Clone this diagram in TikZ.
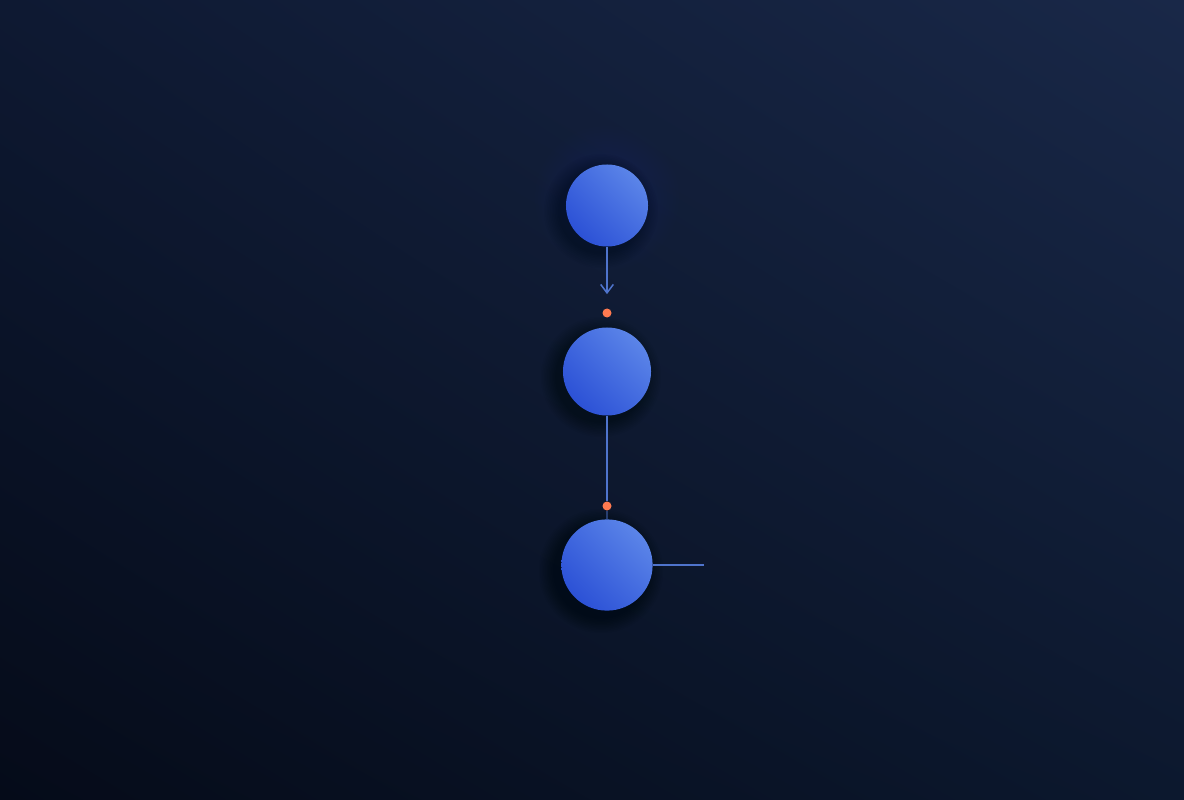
\documentclass[tikz,border=0pt]{standalone}
\usetikzlibrary{arrows.meta,shadings}
\definecolor{bgtl}{HTML}{0E1932}
\definecolor{bgtr}{HTML}{192848}
\definecolor{bgbl}{HTML}{050B19}
\definecolor{bgbr}{HTML}{0C182E}
\definecolor{ballhi}{HTML}{6690EC}
\definecolor{ballmid}{HTML}{4169DF}
\definecolor{balllo}{HTML}{2347D2}
\definecolor{linkblue}{HTML}{4F74CC}
\definecolor{dotorange}{HTML}{FF7A50}
\tikzset{
  ball/.style={circle, inner sep=0pt, upper right=ballhi, lower left=balllo,
    upper left=ballmid, lower right=ballmid},
  dot/.style={circle, inner sep=0pt, minimum size=0.225cm, fill=dotorange},
  link/.style={draw=linkblue, line width=1.1pt}
}
\begin{document}
\begin{tikzpicture}[x=0.025cm,y=-0.025cm]
	\shade[upper left=bgtl, upper right=bgtr, lower left=bgbl, lower right=bgbr] (0,0) rectangle (1184,800);
	\useasboundingbox (0,0) rectangle (1184,800);
	% soft shadows and glow
	\foreach \cx/\cy/\r in {607/205/41, 607/371/44, 607/565/46}{
		\foreach \k in {1,...,10}
			\fill[black, opacity=0.035] (\cx-6,\cy+6) circle [radius=\r+1.6*\k];
	}
	\foreach \k in {1,...,10}
		\fill[ballhi, opacity=0.008] (607,198) circle [radius=42+3*\k];
	% nodes
	\node[ball, minimum size=2.05cm] (top) at (607,205.5) {};
	\node[ball, minimum size=2.2cm] (mid) at (607,371.5) {};
	\node[ball, minimum size=2.28cm] (low) at (607,565) {};
	\node[dot] (d1) at (607,313) {};
	\node[dot] (d2) at (607,506) {};
	\coordinate (tail) at (704,565);
	% links
	\draw[link, -{Straight Barb[length=6pt,width=9pt]}, shorten >=10pt] (top) -- (d1);
	\draw[link] (mid) -- (d2);
	\draw[link, opacity=0.45] (d2) -- (low);
	\draw[link] (low) -- (tail);
\end{tikzpicture}
\end{document}
